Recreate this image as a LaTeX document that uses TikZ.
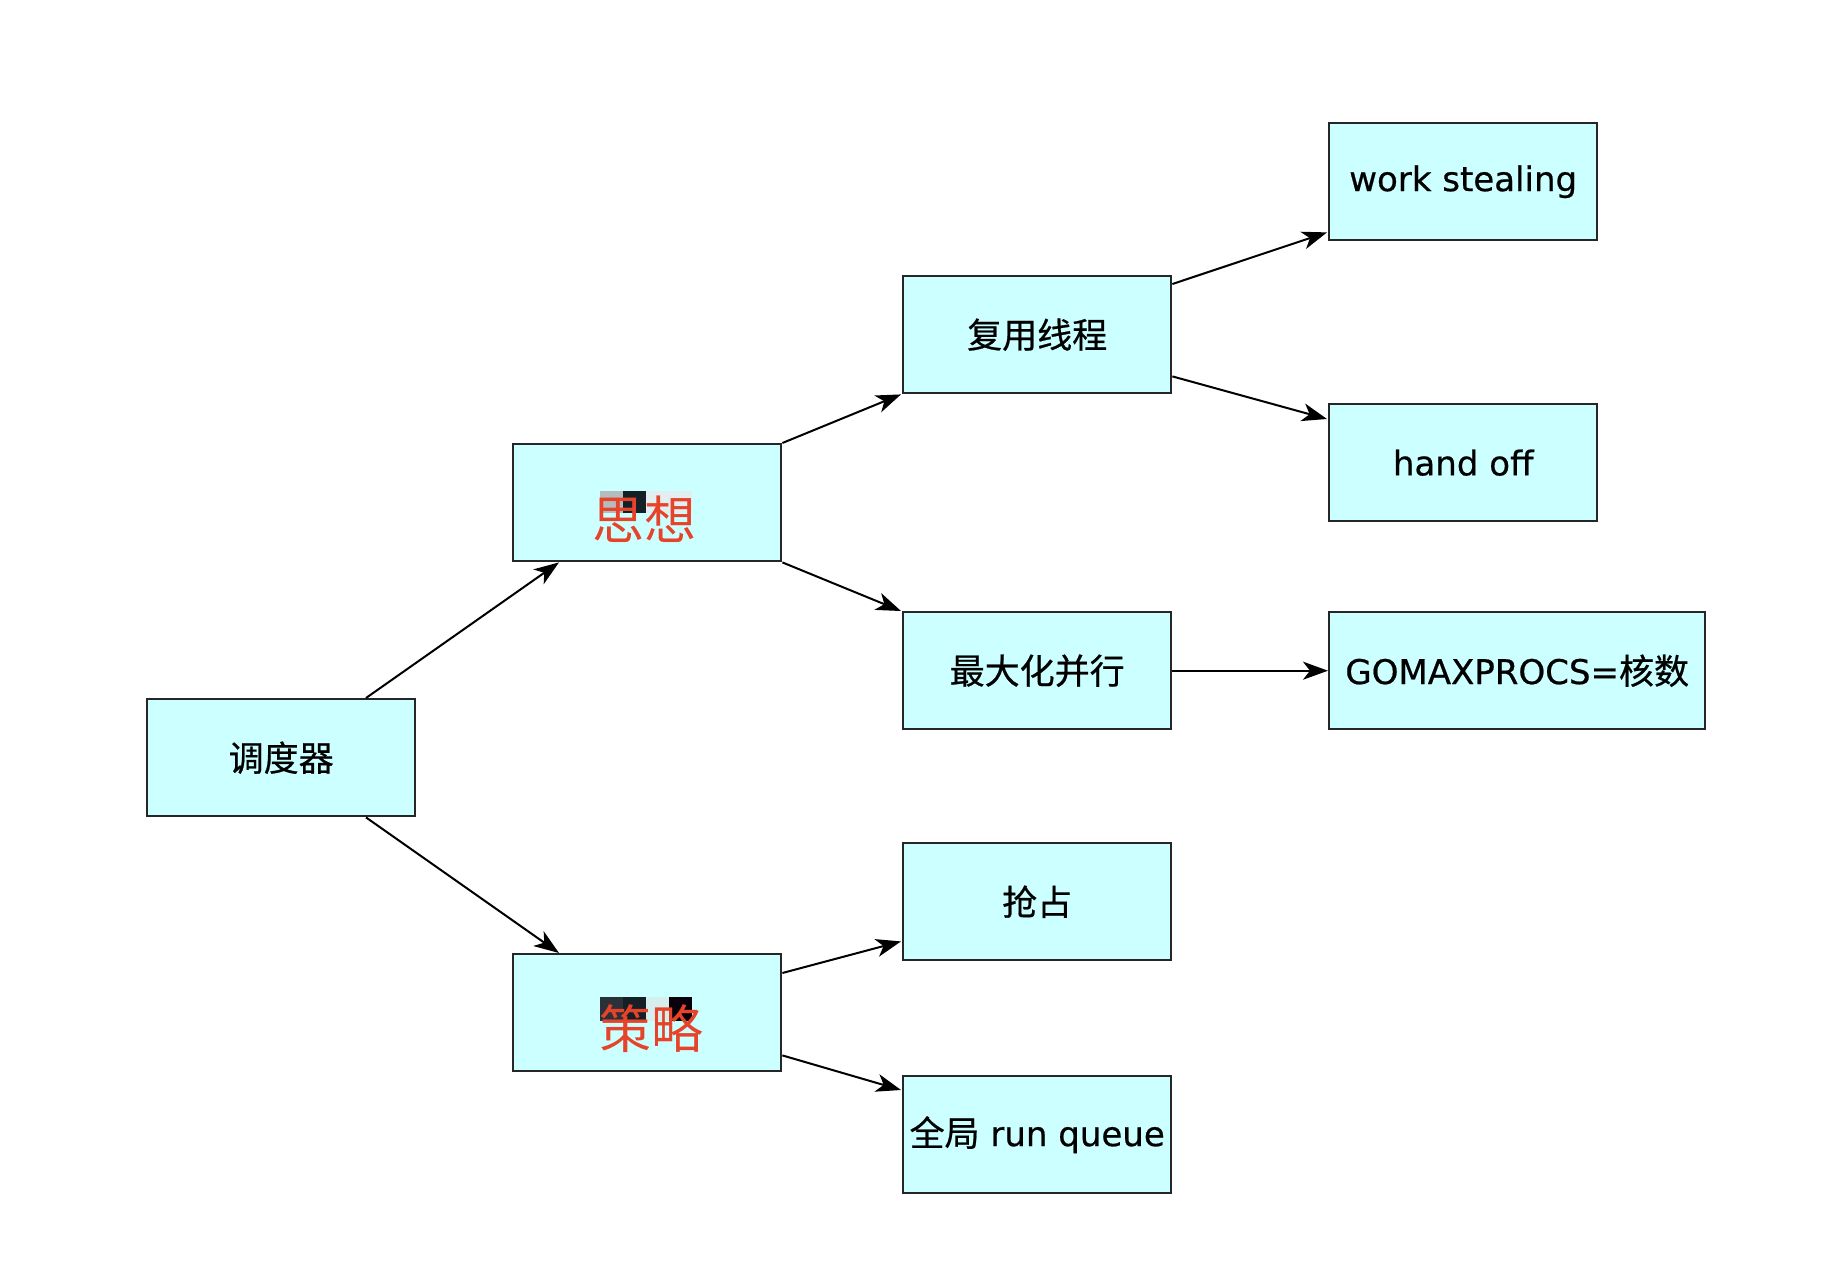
\documentclass[tikz,border=0pt]{standalone}
\usepackage{fontspec}
\setmainfont[FakeBold=0.6,AutoFakeBold=0.6]{DejaVu Sans}
\newfontfamily\cjk[FakeBold=0.6,AutoFakeBold=0.6]{Noto Sans CJK SC}
\newfontfamily\cjkred{Noto Sans CJK SC}
\usetikzlibrary{arrows.meta,calc}
\definecolor{boxfill}{HTML}{CCFFFF}
\definecolor{boxline}{HTML}{262626}
\definecolor{redtxt}{HTML}{E5432A}
\definecolor{hlgray}{HTML}{B4BCBE}
\definecolor{hldark}{HTML}{142026}
\definecolor{hllight}{HTML}{E2EEF0}
\definecolor{hlslate}{HTML}{2A3238}
\definecolor{hlpale}{HTML}{D6EEEE}
\definecolor{hlblack}{HTML}{08000A}
\newcommand{\zh}[1]{{\fontsize{35}{40}\selectfont\cjk\bfseries #1}}
\tikzset{
  box/.style={draw=boxline, fill=boxfill, line width=2.4pt, minimum width=268pt, minimum height=117pt,
    inner sep=0pt, anchor=north west, font=\fontsize{34}{40}\selectfont\bfseries, text=black},
  conn/.style={draw=black, line width=2pt, -{Stealth[length=25pt,width=18pt,inset=7pt]}},
  bigred/.style={font=\fontsize{52}{60}\selectfont\cjkred, text=redtxt, inner sep=0pt},
}
\begin{document}
\begin{tikzpicture}[x=1pt,y=-1pt]
\useasboundingbox[fill=white] (0,0) rectangle (1842,1266);
% boxes
\node[box] (jd) at (146,698) {\raisebox{-4pt}{\zh{调度器}}};
\node[box] (sx) at (512,443) {};
\node[box] (cl) at (512,953) {};
\node[box] (fy) at (902,275) {\raisebox{-3pt}{\zh{复用线程}}};
\node[box] (zd) at (902,611) {\raisebox{-3pt}{\zh{最大化并行}}};
\node[box] (qz) at (902,842) {\raisebox{-3pt}{\zh{抢占}}};
\node[box] (qj) at (902,1075) {\raisebox{-3pt}{\zh{全局} run queue}};
\node[box] (ws) at (1328,122) {\raisebox{-3pt}{work stealing}};
\node[box] (ho) at (1328,403) {\raisebox{-3pt}{hand off}};
\node[box, minimum width=376pt] (gm) at (1328,611) {\raisebox{-3pt}{GOMAXPROCS=\zh{核数}}};
% highlight artefacts behind the red labels
\fill[hlgray] (600,491) rectangle (623,513);
\fill[hldark] (623,491) rectangle (646,513);
\fill[hllight] (646,491) rectangle (692,513);
\fill[hlslate] (600,997) rectangle (623,1021);
\fill[hldark] (623,997) rectangle (646,1021);
\fill[hlpale] (646,997) rectangle (669,1021);
\fill[hlblack] (669,997) rectangle (692,1021);
% red labels
\node[bigred] (sxt) at ($(sx.center)+(-3,17)$) {思想};
\node[bigred] (clt) at ($(cl.center)+(4,16)$) {策略};
% connectors
\draw[conn] ($(jd.north west)+(220,0)$) -- ($(sx.south west)+(47,0)$);
\draw[conn] ($(jd.south west)+(220,0)$) -- ($(cl.north west)+(47,0)$);
\draw[conn] (sx.north east) -- ($(fy.south west)+(-1,0)$);
\draw[conn] (sx.south east) -- ($(zd.north west)+(-1,0)$);
\draw[conn] ($(fy.north east)+(0,9)$) -- ($(ws.south west)+(-1,-9)$);
\draw[conn] ($(fy.south east)+(0,-18)$) -- ($(ho.north west)+(-1,16)$);
\draw[conn] (zd.east) -- (gm.west);
\draw[conn] ($(cl.north east)+(0,20)$) -- ($(qz.south west)+(-1,-20)$);
\draw[conn] ($(cl.south east)+(0,-17)$) -- ($(qj.north west)+(-1,15)$);
\end{tikzpicture}
\end{document}
